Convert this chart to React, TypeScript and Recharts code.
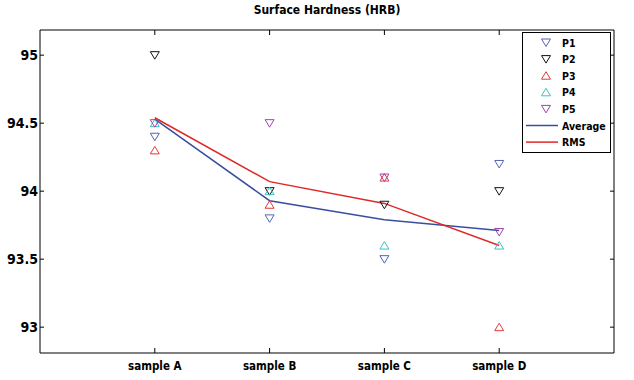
import React from 'react';
import { ComposedChart, Line, Scatter, XAxis, YAxis } from 'recharts';

const categories = ['sample A', 'sample B', 'sample C', 'sample D'];
const yTicks = [93, 93.5, 94, 94.5, 95];
const p1 = [94.4, 93.8, 93.5, 94.2];
const p2 = [95.0, 94.0, 93.9, 94.0];
const p3 = [94.3, 93.9, 94.1, 93.0];
const p4 = [94.5, 94.0, 93.6, 93.6];
const p5 = [94.5, 94.5, 94.1, 93.7];
const average = [94.53, 93.93, 93.79, 93.71];
const rms = [94.54, 94.07, 93.91, 93.6];

const data = categories.map((c, i) => ({
  x: i + 1,
  name: c,
  p1: p1[i],
  p2: p2[i],
  p3: p3[i],
  p4: p4[i],
  p5: p5[i],
  avg: average[i],
  rms: rms[i],
}));

const FONT = '"DejaVu Sans Condensed", "DejaVu Sans", sans-serif';

const C_P1 = '#5563b3';
const C_P2 = '#111111';
const C_P3 = '#e23a3a';
const C_P4 = '#3fbfbf';
const C_P5 = '#a044aa';
const C_AVG = '#3a4ea0';
const C_RMS = '#e02828';

const tri = (color: string, down: boolean) => (props: any) => {
  const { cx, cy } = props;
  if (cx == null || cy == null) return <g />;
  const w = 4.5;
  const h = 4;
  const pts = down
    ? `${cx - w},${cy - h + 0.5} ${cx + w},${cy - h + 0.5} ${cx},${cy + h}`
    : `${cx - w},${cy + h - 0.5} ${cx + w},${cy + h - 0.5} ${cx},${cy - h}`;
  return <polygon points={pts} fill="none" stroke={color} strokeWidth={1} />;
};

const legendItems = [
  { label: 'P1', color: C_P1, kind: 'down' },
  { label: 'P2', color: C_P2, kind: 'down' },
  { label: 'P3', color: C_P3, kind: 'up' },
  { label: 'P4', color: C_P4, kind: 'up' },
  { label: 'P5', color: C_P5, kind: 'down' },
  { label: 'Average', color: C_AVG, kind: 'line' },
  { label: 'RMS', color: C_RMS, kind: 'line' },
];

const LegendBox = () => (
  <svg width={89} height={121} style={{ display: 'block' }}>
    <rect x={0.5} y={0.5} width={88} height={120} fill="#fff" stroke="#000" strokeWidth={1} />
    {legendItems.map((it, i) => {
      const y = 10.5 + i * 16.6;
      let mark;
      if (it.kind === 'line') {
        mark = <line x1={4} x2={36} y1={y} y2={y} stroke={it.color} strokeWidth={1.5} />;
      } else {
        mark = tri(it.color, it.kind === 'down')({ cx: 24, cy: y });
      }
      return (
        <g key={it.label}>
          {mark}
          <text x={40} y={y + 4} fontFamily={FONT} fontWeight="bold" fontSize={10.5} fill="#000">
            {it.label}
          </text>
        </g>
      );
    })}
  </svg>
);

export default function App() {
  return (
    <div style={{ position: 'absolute', left: 0, top: 0, width: 634, height: 380, background: '#fff' }}>
      <div
        style={{
          position: 'absolute',
          left: 40,
          width: 574,
          top: 3,
          textAlign: 'center',
          fontFamily: FONT,
          fontWeight: 'bold',
          fontSize: 12,
          color: '#000',
        }}
      >
        Surface Hardness (HRB)
      </div>
      <ComposedChart
        width={634}
        height={380}
        data={data}
        margin={{ top: 29, right: 19, bottom: 0, left: 0 }}
      >
        <XAxis
          dataKey="x"
          type="number"
          domain={[0, 5]}
          ticks={[1, 2, 3, 4]}
          interval={0}
          tickFormatter={(v: number) => categories[v - 1] ?? ''}
          height={27}
          tickSize={-5}
          tickMargin={14}
          axisLine={{ stroke: '#000' }}
          tickLine={{ stroke: '#000' }}
          tick={{ fill: '#000', fontFamily: FONT, fontWeight: 'bold', fontSize: 11.5 }}
        />
        <XAxis
          xAxisId="top"
          dataKey="x"
          orientation="top"
          type="number"
          domain={[0, 5]}
          ticks={[1, 2, 3, 4]}
          interval={0}
          height={1}
          tickSize={-5}
          tickFormatter={() => ''}
          axisLine={{ stroke: '#000' }}
          tickLine={{ stroke: '#000' }}
        />
        <YAxis
          type="number"
          domain={[92.81, 95.185]}
          ticks={yTicks}
          interval={0}
          width={40}
          tickSize={-4}
          tickMargin={6}
          allowDataOverflow
          axisLine={{ stroke: '#000' }}
          tickLine={{ stroke: '#000' }}
          tick={{ fill: '#000', fontFamily: FONT, fontWeight: 'bold', fontSize: 14 }}
        />
        <YAxis
          yAxisId="right"
          orientation="right"
          type="number"
          domain={[92.81, 95.185]}
          ticks={yTicks}
          interval={0}
          width={1}
          tickSize={-4}
          allowDataOverflow
          tickFormatter={() => ''}
          axisLine={{ stroke: '#000' }}
          tickLine={{ stroke: '#000' }}
        />
        <Line
          xAxisId="top"
          yAxisId="right"
          dataKey="avg"
          stroke="none"
          dot={false}
          activeDot={false}
          legendType="none"
          isAnimationActive={false}
        />
        <Scatter dataKey="p1" shape={tri(C_P1, true)} isAnimationActive={false} legendType="none" />
        <Scatter dataKey="p2" shape={tri(C_P2, true)} isAnimationActive={false} legendType="none" />
        <Scatter dataKey="p3" shape={tri(C_P3, false)} isAnimationActive={false} legendType="none" />
        <Scatter dataKey="p4" shape={tri(C_P4, false)} isAnimationActive={false} legendType="none" />
        <Scatter dataKey="p5" shape={tri(C_P5, true)} isAnimationActive={false} legendType="none" />
        <Line dataKey="avg" type="linear" stroke={C_AVG} strokeWidth={1.5} dot={false} isAnimationActive={false} />
        <Line dataKey="rms" type="linear" stroke={C_RMS} strokeWidth={1.5} dot={false} isAnimationActive={false} />
      </ComposedChart>
      <div style={{ position: 'absolute', left: 522, top: 32 }}>
        <LegendBox />
      </div>
    </div>
  );
}
